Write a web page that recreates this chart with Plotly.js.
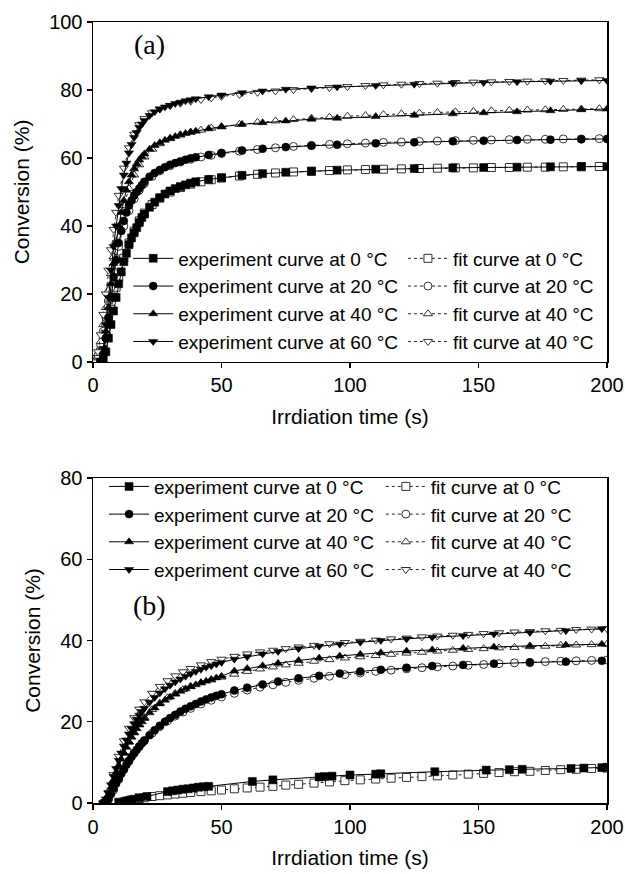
<!DOCTYPE html>
<html>
<head>
<meta charset="utf-8">
<script src="https://cdn.plot.ly/plotly-3.0.1.min.js"></script>
<style>html,body{margin:0;padding:0;background:#fff;}#chart{width:625px;height:874px;}</style>
</head>
<body>
<div id="chart"></div>
<script>
// ---------- Panel (a) ----------
const tA_exp = [3,4,5,6,7,8,9,10,11,12,13,14,15,16,17,18,19,20,22,24,26,28,30,32,34,36,38,40,45,50,58,66,75,85,95,110,125,140,152,165,178,190,200];
const a_exp0  = [0,0.5,3,7,11,15,19,23,26.5,29.5,32,34.5,36.5,38,39.5,41,42.5,43.5,45.5,47,48.3,49.4,50.3,51,51.6,52.1,52.6,53,53.7,54.2,54.9,55.4,55.8,56.1,56.4,56.7,56.9,57.1,57.2,57.3,57.4,57.5,57.5];
const a_exp20 = [0,2,7,13,19,25,30,35,38.5,41.5,44,46,47.5,49,50,51,52,53,54.5,55.6,56.5,57.3,58,58.5,59,59.5,59.9,60.2,60.9,61.5,62.2,62.7,63.2,63.6,63.9,64.3,64.6,64.9,65.1,65.3,65.4,65.5,65.6];
const a_exp40 = [0,3,9,16,23,29,35,40,44,47.5,50.5,53,55,56.8,58.2,59.4,60.4,61.2,62.6,63.7,64.5,65.2,65.8,66.3,66.8,67.2,67.6,67.9,68.6,69.2,69.9,70.4,70.9,71.4,71.7,72.2,72.6,73,73.3,73.6,73.9,74.2,74.4];
const a_exp60 = [0,4,11,19,27,34,40,46,51,55,58.5,61.5,64,66,67.5,69,70,71,72.5,73.6,74.4,75,75.5,76,76.4,76.8,77.1,77.4,78,78.5,79.2,79.7,80.2,80.6,80.9,81.3,81.7,82,82.2,82.4,82.6,82.7,82.8];

const tA_fit = [1,2,3,4,5,6,7,8,9,10,12,14,16,18,20,23,26,30,34,38,42,46,50,57,64,71,78,85,92,99,106,113,120,127,134,141,148,155,162,169,176,183,190,197];
const a_fit0  = [0,1,3,6,9,12,15.5,19,22,25,30.5,35,38.5,41.5,43.8,46.3,48.2,50,51.3,52.3,53,53.6,54.1,54.7,55.2,55.6,55.9,56.1,56.3,56.5,56.6,56.7,56.8,56.9,57,57.1,57.1,57.2,57.2,57.3,57.3,57.4,57.4,57.5];
const a_fit20 = [0,2,5,9,13,18,22,26.5,30.5,34,40,44.5,48,50.5,52.5,54.6,56.2,57.7,58.8,59.6,60.3,60.8,61.3,62,62.5,63,63.4,63.7,64,64.2,64.4,64.6,64.7,64.9,65,65.1,65.2,65.3,65.4,65.5,65.5,65.6,65.6,65.7];
const a_fit40 = [0,2.5,6,11,16,21,26,31,35.5,39.5,46,51,55,58,60.3,62.6,64.2,65.7,66.8,67.6,68.2,68.8,69.2,69.9,70.5,70.9,71.3,71.7,72,72.3,72.5,72.8,73,73.2,73.4,73.6,73.7,73.9,74,74.1,74.2,74.3,74.4,74.5];
const a_fit60 = [0,3,8,14,20,27,33,39,44,49,57,63,67,69.8,71.6,73.3,74.4,75.4,76.1,76.7,77.2,77.7,78.1,78.7,79.3,79.7,80.1,80.4,80.7,81,81.3,81.5,81.7,81.9,82,82.2,82.3,82.4,82.5,82.6,82.7,82.8,82.9,83];

// ---------- Panel (b) ----------
const tB_exp = [4,5,6,7,8,9,10,11,12,13,14,15,16,17,18,19,20,22,24,26,28,30,32,34,36,38,40,42,44,46,48,50,55,60,66,72,80,88,96,104,112,122,132,144,156,170,184,198];
const b_exp20 = [0,0.3,1,2.2,3.5,4.8,6,7.2,8.3,9.4,10.4,11.4,12.3,13.1,13.9,14.7,15.4,16.7,17.9,19,20,20.9,21.7,22.5,23.2,23.8,24.4,25,25.5,26,26.4,26.8,27.7,28.4,29.2,29.9,30.7,31.3,31.9,32.4,32.8,33.3,33.7,34,34.3,34.6,34.8,35];
const b_exp40 = [0,0.8,2,3.8,5.6,7.5,9.2,10.8,12.3,13.7,15,16.2,17.3,18.3,19.2,20,20.8,22.2,23.4,24.4,25.3,26.1,26.8,27.5,28.1,28.6,29.1,29.6,30,30.4,30.8,31.2,32.5,33.1,33.8,34.4,35.1,35.7,36.2,36.6,37,37.4,37.7,38.1,38.4,38.7,38.9,39.1];
const b_exp60 = [0,1,2.5,4.5,6.5,8.5,10.5,12.3,14,15.5,17,18.3,19.5,20.6,21.6,22.5,23.3,24.8,26,27.1,28.1,29,29.8,30.5,31.2,31.8,32.4,32.9,33.4,33.8,34.2,34.6,35.4,36,36.7,37.3,38,38.6,39.1,39.6,40,40.4,40.8,41.2,41.6,42,42.4,42.9];

const tB0_exp = [10,13,15,18,21,29,31,33,35,37,39,41,43,45,62,70,88,90,93,100,110,112,133,153,162,167,186,191,198,200];
const b_exp0  = [0.2,0.5,0.8,1.3,1.6,2.8,3,3.2,3.4,3.5,3.7,3.9,4,4.1,5.3,5.7,6.4,6.5,6.6,6.9,7.1,7.2,7.7,8.1,8.2,8.3,8.5,8.6,8.7,8.8];

const tB_fit = [4,6,8,10,12,14,16,18,20,23,26,29,32,35,38,42,46,50,55,60,65,70,75,80,86,92,98,104,110,116,122,128,134,140,146,152,158,164,170,176,182,188,194,200];
const b_fit0  = [null,null,null,null,0.3,0.6,0.9,1.1,1.3,1.6,1.8,2,2.2,2.4,2.6,2.8,3,3.2,3.5,3.7,3.9,4.1,4.4,4.6,4.9,5.2,5.5,5.7,5.9,6.1,6.3,6.5,6.7,6.9,7.1,7.3,7.5,7.7,7.8,8,8.2,8.3,8.5,8.6];
const b_fit20 = [0,0.8,3.2,5.8,8.2,10.3,12.2,13.9,15.3,17.2,18.8,20.2,21.4,22.4,23.3,24.4,25.3,26.1,27,27.8,28.5,29.1,29.7,30.2,30.7,31.2,31.6,32,32.4,32.7,33,33.3,33.5,33.7,33.9,34.1,34.3,34.5,34.6,34.8,34.9,35,35.1,35.2];
const b_fit40 = [0,1.8,5.5,9,12.3,15,17.3,19.3,21,23,24.6,25.9,27,27.9,28.7,29.6,30.3,31,31.7,32.4,33,33.5,34,34.4,34.9,35.3,35.7,36,36.3,36.6,36.9,37.1,37.4,37.6,37.8,38,38.2,38.3,38.5,38.6,38.8,38.9,39,39.1];
const b_fit60 = [0,2.5,7,11.5,15.3,18.4,21,23.1,24.9,27,28.7,30.1,31.3,32.3,33.1,34,34.8,35.4,36.1,36.7,37.2,37.6,38,38.4,38.8,39.2,39.5,39.8,40.1,40.4,40.6,40.9,41.1,41.3,41.5,41.7,41.9,42.1,42.2,42.4,42.5,42.7,42.8,42.9];

const expNames = ['experiment curve at 0 °C','experiment curve at 20 °C','experiment curve at 40 °C','experiment curve at 60 °C'];
const fitNames = ['fit curve at 0 °C','fit curve at 20 °C','fit curve at 40 °C','fit curve at 40 °C'];
const symbols = ['square','circle','triangle-up','triangle-down'];

function expTrace(x, y, i, xa, ya, leg) {
  return {x: x, y: y, name: expNames[i], type: 'scatter', mode: 'lines+markers',
    xaxis: xa, yaxis: ya, legend: leg,
    line: {color: '#000', width: 1},
    marker: {symbol: symbols[i], size: 8, color: '#000', line: {color: '#000', width: 0.5}}};
}
function fitTrace(x, y, i, xa, ya, leg) {
  return {x: x, y: y, name: fitNames[i], type: 'scatter', mode: 'lines+markers',
    xaxis: xa, yaxis: ya, legend: leg, connectgaps: false,
    line: {color: '#222', width: 1, dash: 'dot'},
    marker: {symbol: symbols[i], size: 8, color: '#fff', line: {color: '#333', width: 1}}};
}

const aFits = [a_fit0, a_fit20, a_fit40, a_fit60];
const aExps = [a_exp0, a_exp20, a_exp40, a_exp60];
const bFits = [b_fit0, b_fit20, b_fit40, b_fit60];

const data = [];
for (let i = 0; i < 4; i++) data.push(fitTrace(tA_fit, aFits[i], i, 'x', 'y', 'legend2'));
for (let i = 0; i < 4; i++) data.push(expTrace(tA_exp, aExps[i], i, 'x', 'y', 'legend'));
for (let i = 0; i < 4; i++) data.push(fitTrace(tB_fit, bFits[i], i, 'x2', 'y2', 'legend4'));
data.push(expTrace(tB0_exp, b_exp0, 0, 'x2', 'y2', 'legend3'));
data.push(expTrace(tB_exp, b_exp20, 1, 'x2', 'y2', 'legend3'));
data.push(expTrace(tB_exp, b_exp40, 2, 'x2', 'y2', 'legend3'));
data.push(expTrace(tB_exp, b_exp60, 3, 'x2', 'y2', 'legend3'));

const FONT = 'Arial, "Liberation Sans", sans-serif';
const axisCommon = {
  showgrid: false, zeroline: false, showline: true, linecolor: '#000', linewidth: 1.5,
  mirror: true, ticks: 'outside', ticklen: 5, tickwidth: 1.2, tickcolor: '#000',
  tickfont: {family: FONT, size: 20, color: '#000'}
};
const xTitle = {text: 'Irrdiation time (s)', font: {family: FONT, size: 21, color: '#000'}, standoff: 14};
const yTitle = {text: 'Conversion (%)', font: {family: FONT, size: 21, color: '#000'}, standoff: 14};
const legCommon = {bgcolor: 'rgba(0,0,0,0)', borderwidth: 0, font: {family: FONT, size: 19, color: '#000'},
  xref: 'paper', yref: 'paper', xanchor: 'left', yanchor: 'top', itemwidth: 40, traceorder: 'normal'};

const layout = {
  width: 625, height: 874,
  margin: {l: 93, r: 18, t: 22, b: 71},
  paper_bgcolor: '#fff', plot_bgcolor: '#fff',
  showlegend: true,
  xaxis: Object.assign({}, axisCommon, {domain: [0, 1], range: [0, 200], dtick: 50, anchor: 'y', title: xTitle}),
  yaxis: Object.assign({}, axisCommon, {domain: [0.5647, 1], range: [0, 100], dtick: 20, anchor: 'x', title: yTitle}),
  xaxis2: Object.assign({}, axisCommon, {domain: [0, 1], range: [0, 200], dtick: 50, anchor: 'y2', title: xTitle}),
  yaxis2: Object.assign({}, axisCommon, {domain: [0, 0.4161], range: [0, 80], dtick: 20, anchor: 'x2', title: yTitle}),
  legend:  Object.assign({}, legCommon, {x: 0.0685, y: 0.7215}),
  legend2: Object.assign({}, legCommon, {x: 0.603, y: 0.7215}),
  legend3: Object.assign({}, legCommon, {x: 0.0215, y: 0.4295}),
  legend4: Object.assign({}, legCommon, {x: 0.56, y: 0.4295}),
  annotations: [
    {text: '(a)', xref: 'x', yref: 'y', x: 22, y: 93.5, showarrow: false,
     font: {family: '"Liberation Serif", "Times New Roman", serif', size: 28, color: '#000'}},
    {text: '(b)', xref: 'x2', yref: 'y2', x: 22, y: 48.5, showarrow: false,
     font: {family: '"Liberation Serif", "Times New Roman", serif', size: 28, color: '#000'}}
  ]
};

Plotly.newPlot('chart', data, layout, {displayModeBar: false, staticPlot: true});
</script>
</body>
</html>
